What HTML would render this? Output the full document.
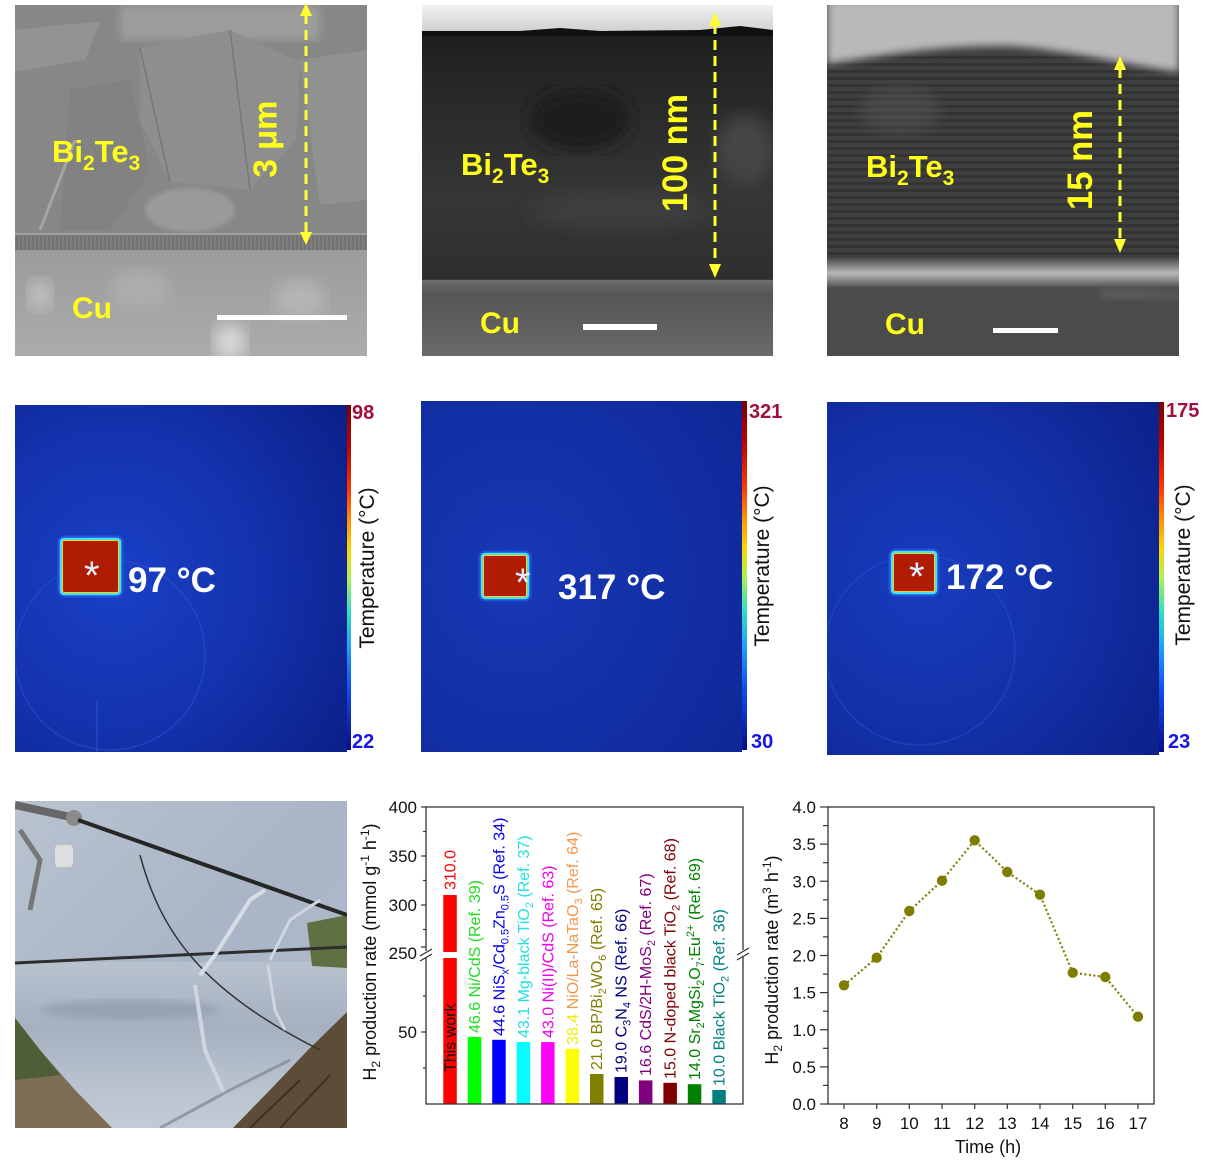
<!DOCTYPE html>
<html><head><meta charset="utf-8">
<style>
html,body{margin:0;padding:0;background:#fff;}
svg{display:block;}
text{font-family:"Liberation Sans",Arial,sans-serif;}
</style></head><body>
<svg width="1216" height="1166" viewBox="0 0 1216 1166" xmlns="http://www.w3.org/2000/svg">
<defs>
 <linearGradient id="jet" x1="0" y1="0" x2="0" y2="1">
  <stop offset="0" stop-color="#7a0000"/>
  <stop offset="0.12" stop-color="#c00000"/>
  <stop offset="0.25" stop-color="#ff3a00"/>
  <stop offset="0.33" stop-color="#ff8c00"/>
  <stop offset="0.42" stop-color="#ffd400"/>
  <stop offset="0.5" stop-color="#b0f050"/>
  <stop offset="0.6" stop-color="#30e0c0"/>
  <stop offset="0.7" stop-color="#20a0ff"/>
  <stop offset="0.82" stop-color="#1050f0"/>
  <stop offset="1" stop-color="#0a0a90"/>
 </linearGradient>
 <radialGradient id="th1" cx="0.3" cy="0.5" r="0.85">
  <stop offset="0" stop-color="#1a40c6"/>
  <stop offset="0.5" stop-color="#1433ae"/>
  <stop offset="1" stop-color="#0b1f88"/>
 </radialGradient>
 <radialGradient id="th2" cx="0.3" cy="0.5" r="0.9">
  <stop offset="0" stop-color="#1738b6"/>
  <stop offset="1" stop-color="#0e2796"/>
 </radialGradient>
 <radialGradient id="th3" cx="0.3" cy="0.5" r="0.85">
  <stop offset="0" stop-color="#183cbe"/>
  <stop offset="0.5" stop-color="#1331a8"/>
  <stop offset="1" stop-color="#0c218a"/>
 </radialGradient>
 <linearGradient id="p2top" x1="0" y1="0" x2="0" y2="1">
  <stop offset="0" stop-color="#f2f2f2"/>
  <stop offset="1" stop-color="#cfcfcf"/>
 </linearGradient>
 <linearGradient id="p2body" x1="0" y1="0" x2="0" y2="1">
  <stop offset="0" stop-color="#161616"/>
  <stop offset="0.15" stop-color="#232323"/>
  <stop offset="0.55" stop-color="#363636"/>
  <stop offset="0.8" stop-color="#2e2e2e"/>
  <stop offset="1" stop-color="#242424"/>
 </linearGradient>
 <linearGradient id="p2cu" x1="0" y1="0" x2="0" y2="1">
  <stop offset="0" stop-color="#6a6a6a"/>
  <stop offset="0.2" stop-color="#555"/>
  <stop offset="1" stop-color="#6a6a6a"/>
 </linearGradient>
 <linearGradient id="p3band" x1="0" y1="0" x2="0" y2="1">
  <stop offset="0" stop-color="#4a4a4a"/>
  <stop offset="0.5" stop-color="#b8b8b8"/>
  <stop offset="1" stop-color="#505050"/>
 </linearGradient>
 <linearGradient id="p1cu" x1="0" y1="0" x2="0" y2="1">
  <stop offset="0" stop-color="#9c9c9c"/>
  <stop offset="1" stop-color="#ababab"/>
 </linearGradient>
 <linearGradient id="mir1" x1="0" y1="0" x2="1" y2="1">
  <stop offset="0" stop-color="#b9c3d0"/>
  <stop offset="0.5" stop-color="#a9b5c6"/>
  <stop offset="1" stop-color="#b3bfd0"/>
 </linearGradient>
 <linearGradient id="mir2" x1="0" y1="0" x2="0" y2="1">
  <stop offset="0" stop-color="#b8c2cf"/>
  <stop offset="0.4" stop-color="#a5b0c0"/>
  <stop offset="0.7" stop-color="#b7c1ce"/>
  <stop offset="1" stop-color="#c2cad5"/>
 </linearGradient>
 <pattern id="stripes" x="0" y="0" width="8" height="7" patternUnits="userSpaceOnUse">
  <rect x="0" y="0" width="8" height="3" fill="#2a2a2a" opacity="0.55"/>
 </pattern>
 <pattern id="hatch" x="0" y="0" width="4" height="14" patternUnits="userSpaceOnUse">
  <rect x="0" y="0" width="2" height="14" fill="#6a6a6a" opacity="0.6"/>
 </pattern>
 <filter id="blur4"><feGaussianBlur stdDeviation="4"/></filter>
 <filter id="blur8"><feGaussianBlur stdDeviation="8"/></filter>
 <filter id="blur2"><feGaussianBlur stdDeviation="2"/></filter>
 <clipPath id="c1"><rect x="15" y="5" width="352" height="351"/></clipPath>
 <clipPath id="c2"><rect x="422" y="5" width="351" height="351"/></clipPath>
 <clipPath id="c3"><rect x="827" y="5" width="352" height="351"/></clipPath>
 <clipPath id="cph"><rect x="15" y="801" width="332" height="327"/></clipPath>
 <clipPath id="ct1"><rect x="15" y="405" width="332" height="347"/></clipPath>
 <clipPath id="ct3"><rect x="827" y="402" width="332" height="353"/></clipPath>
</defs>

<rect x="0" y="0" width="1216" height="1166" fill="#fff"/>

<!-- ===== Panel 1 SEM ===== -->
<g clip-path="url(#c1)">
 <rect x="15" y="5" width="352" height="232" fill="#878787"/>
 <rect x="120" y="5" width="200" height="35" fill="#9c9c9c" filter="url(#blur4)"/>
 <polygon points="15,30 60,25 100,22 85,60 15,72" fill="#939393"/>
 <polygon points="140,48 230,30 300,62 296,140 250,190 170,182 140,120" fill="#8e8e8e"/>
 <polygon points="70,90 130,80 150,170 110,230 60,230" fill="#828282"/>
 <polygon points="300,60 367,50 367,200 320,205" fill="#919191"/>
 <ellipse cx="190" cy="210" rx="45" ry="22" fill="#9a9a9a" filter="url(#blur2)"/>
 <path d="M140,48 L170,182 M230,30 L250,190" stroke="#777" stroke-width="1.5" fill="none"/>
 <line x1="40" y1="230" x2="75" y2="140" stroke="#a5a5a5" stroke-width="3"/>
 <rect x="15" y="233" width="352" height="17" fill="#7f7f7f"/>
 <rect x="15" y="233" width="352" height="17" fill="url(#hatch)"/>
 <rect x="15" y="233" width="352" height="2" fill="#a0a0a0"/>
 <rect x="15" y="250" width="352" height="106" fill="url(#p1cu)"/>
 <ellipse cx="230" cy="342" rx="16" ry="18" fill="#d8d8d8" filter="url(#blur8)"/>
 <ellipse cx="40" cy="295" rx="12" ry="16" fill="#c0c0c0" filter="url(#blur8)"/>
 <ellipse cx="300" cy="300" rx="25" ry="20" fill="#b5b5b5" filter="url(#blur8)"/>
 <ellipse cx="140" cy="290" rx="30" ry="20" fill="#adadad" filter="url(#blur8)"/>
</g>
<rect x="217" y="315" width="130" height="5" fill="#fff"/>
<line x1="306" y1="14" x2="306" y2="234" stroke="#ffff33" stroke-width="3" stroke-dasharray="10 6"/>
<polygon points="306,3 300,16 312,16" fill="#ffff33"/>
<polygon points="306,245 300,232 312,232" fill="#ffff33"/>
<text x="52" y="162" font-size="31" font-weight="bold" fill="#ffff1a">Bi<tspan font-size="21" dy="8">2</tspan><tspan dy="-8">Te</tspan><tspan font-size="21" dy="8">3</tspan></text>
<text x="72" y="318" font-size="30" font-weight="bold" fill="#ffff1a">Cu</text>
<text transform="translate(265,139) rotate(-90)" y="11.5" text-anchor="middle" font-size="33" font-weight="bold" fill="#ffff1a">3 μm</text>

<!-- ===== Panel 2 TEM ===== -->
<g clip-path="url(#c2)">
 <rect x="422" y="5" width="351" height="351" fill="url(#p2body)"/>
 <rect x="422" y="5" width="351" height="27" fill="url(#p2top)"/>
 <path d="M422,31 L520,31 L560,28 L600,31 L700,30 L740,26 L773,30 L773,36 L422,36 Z" fill="#101010"/>
 <ellipse cx="580" cy="120" rx="50" ry="30" fill="#1f1f1f" filter="url(#blur8)"/>
 <ellipse cx="745" cy="150" rx="30" ry="35" fill="#444" filter="url(#blur8)"/>
 <ellipse cx="620" cy="210" rx="90" ry="20" fill="#3d3d3d" filter="url(#blur8)"/>
 <rect x="422" y="280" width="351" height="76" fill="url(#p2cu)"/>
 <rect x="422" y="280" width="351" height="3" fill="#707070" filter="url(#blur2)"/>
</g>
<rect x="583" y="324" width="74" height="6" fill="#fff"/>
<line x1="715" y1="24" x2="715" y2="266" stroke="#ffff33" stroke-width="3" stroke-dasharray="10 6"/>
<polygon points="715,12 709,26 721,26" fill="#ffff33"/>
<polygon points="715,278 709,264 721,264" fill="#ffff33"/>
<text x="461" y="175" font-size="31" font-weight="bold" fill="#ffff1a">Bi<tspan font-size="21" dy="8">2</tspan><tspan dy="-8">Te</tspan><tspan font-size="21" dy="8">3</tspan></text>
<text x="480" y="333" font-size="30" font-weight="bold" fill="#ffff1a">Cu</text>
<text transform="translate(675,153) rotate(-90)" y="12" text-anchor="middle" font-size="35" font-weight="bold" fill="#ffff1a" textLength="118" lengthAdjust="spacingAndGlyphs">100 nm</text>

<!-- ===== Panel 3 HRTEM ===== -->
<g clip-path="url(#c3)">
 <rect x="827" y="5" width="352" height="351" fill="#3f3f3f"/>
 <rect x="827" y="55" width="352" height="210" fill="url(#stripes)"/>
 <path d="M827,0 H1179 V72 C1120,64 1050,46 1000,46 C930,46 880,56 827,64 Z" fill="#b9b9b9" filter="url(#blur4)"/>
 <ellipse cx="900" cy="110" rx="40" ry="25" fill="#555" opacity="0.5" filter="url(#blur8)"/>
 <rect x="827" y="258" width="352" height="30" fill="url(#p3band)"/>
 <rect x="827" y="287" width="352" height="69" fill="#4b4b4b"/>
 <path d="M1100,287 C1130,285 1160,290 1179,292 L1179,300 L1100,300 Z" fill="#5a5a5a" filter="url(#blur4)"/>
</g>
<rect x="993" y="328" width="65" height="5" fill="#fff"/>
<line x1="1120" y1="68" x2="1120" y2="242" stroke="#ffff33" stroke-width="3" stroke-dasharray="10 6"/>
<polygon points="1120,56 1114,70 1126,70" fill="#ffff33"/>
<polygon points="1120,253 1114,239 1126,239" fill="#ffff33"/>
<text x="866" y="177" font-size="31" font-weight="bold" fill="#ffff1a">Bi<tspan font-size="21" dy="8">2</tspan><tspan dy="-8">Te</tspan><tspan font-size="21" dy="8">3</tspan></text>
<text x="885" y="334" font-size="30" font-weight="bold" fill="#ffff1a">Cu</text>
<text transform="translate(1080,160) rotate(-90)" y="12" text-anchor="middle" font-size="35" font-weight="bold" fill="#ffff1a" textLength="100" lengthAdjust="spacingAndGlyphs">15 nm</text>

<!-- ===== Thermal 1 ===== -->
<g clip-path="url(#ct1)">
 <rect x="15" y="405" width="332" height="347" fill="url(#th1)"/>
 <circle cx="110" cy="655" r="95" fill="none" stroke="#2a55d8" stroke-width="1.5" opacity="0.5"/>
 <line x1="97" y1="700" x2="97" y2="752" stroke="#2a55d8" stroke-width="2" opacity="0.5"/>
</g>
<rect x="347" y="405" width="4" height="345" fill="url(#jet)"/>
<rect x="61" y="539" width="59" height="55" rx="3" fill="none" stroke="#3070ff" stroke-width="7" opacity="0.45"/>
<rect x="61" y="539" width="59" height="55" rx="3" fill="#b01c02" stroke="#40e0ff" stroke-width="2.5"/>
<rect x="62.5" y="540.5" width="56" height="52" rx="2" fill="none" stroke="#ffd000" stroke-width="1"/>
<text x="84" y="589" font-size="40" fill="#e8eeff">*</text>
<text x="128" y="592" font-size="35" font-weight="bold" fill="#fff">97 °C</text>
<text x="352" y="419" font-size="20" font-weight="bold" fill="#a0103a">98</text>
<text x="352" y="748" font-size="20" font-weight="bold" fill="#1515e5">22</text>
<text transform="translate(367,568) rotate(-90)" y="7" text-anchor="middle" font-size="21" fill="#111">Temperature (°C)</text>

<!-- ===== Thermal 2 ===== -->
<rect x="421" y="401" width="321" height="351" fill="url(#th2)"/>
<rect x="742" y="401" width="5" height="349" fill="url(#jet)"/>
<rect x="482" y="554" width="46" height="44" rx="3" fill="none" stroke="#3070ff" stroke-width="7" opacity="0.45"/>
<rect x="482" y="554" width="46" height="44" rx="3" fill="#b01c02" stroke="#40e0ff" stroke-width="2.5"/>
<rect x="483.5" y="555.5" width="43" height="41" rx="2" fill="none" stroke="#ffd000" stroke-width="1"/>
<text x="515" y="596" font-size="40" fill="#e8eeff">*</text>
<text x="558" y="599" font-size="35" font-weight="bold" fill="#fff">317 °C</text>
<text x="749" y="418" font-size="20" font-weight="bold" fill="#a0103a">321</text>
<text x="751" y="748" font-size="20" font-weight="bold" fill="#1515e5">30</text>
<text transform="translate(762,566) rotate(-90)" y="7" text-anchor="middle" font-size="21" fill="#111">Temperature (°C)</text>

<!-- ===== Thermal 3 ===== -->
<g clip-path="url(#ct3)">
 <rect x="827" y="402" width="332" height="353" fill="url(#th3)"/>
 <circle cx="920" cy="650" r="95" fill="none" stroke="#2a55d8" stroke-width="1.5" opacity="0.45"/>
</g>
<rect x="1159" y="402" width="5" height="350" fill="url(#jet)"/>
<rect x="892" y="552" width="44" height="41" rx="3" fill="none" stroke="#3070ff" stroke-width="7" opacity="0.45"/>
<rect x="892" y="552" width="44" height="41" rx="3" fill="#b01c02" stroke="#40e0ff" stroke-width="2.5"/>
<rect x="893.5" y="553.5" width="41" height="38" rx="2" fill="none" stroke="#ffd000" stroke-width="1"/>
<text x="909" y="590" font-size="40" fill="#e8eeff">*</text>
<text x="946" y="589" font-size="35" font-weight="bold" fill="#fff">172 °C</text>
<text x="1166" y="417" font-size="20" font-weight="bold" fill="#a0103a">175</text>
<text x="1168" y="748" font-size="20" font-weight="bold" fill="#1515e5">23</text>
<text transform="translate(1183,565) rotate(-90)" y="7" text-anchor="middle" font-size="21" fill="#111">Temperature (°C)</text>

<!-- ===== Photo ===== -->
<g clip-path="url(#cph)">
 <rect x="15" y="801" width="332" height="327" fill="url(#mir1)"/>
 <rect x="15" y="962" width="332" height="166" fill="url(#mir2)"/>
 <ellipse cx="130" cy="1010" rx="90" ry="10" fill="#95a2b4" filter="url(#blur4)"/>
 <polygon points="307,923 347,915 347,968 312,966" fill="#5f7042"/>
 <polygon points="15,1018 40,1050 75,1090 112,1128 15,1128" fill="#7e6d55"/>
 <polygon points="15,1018 40,1050 60,1075 15,1080" fill="#4f5e36"/>
 <polygon points="347,1012 308,1050 270,1090 233,1128 347,1128" fill="#5c4c38"/>
 <path d="M250,1128 L300,1080 M280,1128 L330,1075" stroke="#3c3026" stroke-width="2"/>
 <line x1="15" y1="805" x2="75" y2="818" stroke="#666" stroke-width="8"/>
 <circle cx="74" cy="818" r="8" fill="#8a8a8a"/>
 <line x1="78" y1="820" x2="347" y2="915" stroke="#262626" stroke-width="4"/>
 <line x1="15" y1="963" x2="347" y2="947" stroke="#2e2e2e" stroke-width="3"/>
 <path d="M140,855 C160,930 200,990 320,1050" stroke="#333" stroke-width="1.5" fill="none"/>
 <path d="M20,830 L40,860 L30,910" stroke="#777" stroke-width="5" fill="none"/>
 <rect x="55" y="845" width="18" height="22" rx="4" fill="#dedede"/>
 <path d="M200,975 L215,955 L250,900 L265,890" stroke="#d8dde5" stroke-width="4" fill="none"/>
 <path d="M195,985 L205,1050 L225,1095" stroke="#d0d6df" stroke-width="4" fill="none"/>
 <path d="M270,960 L290,920 L320,900" stroke="#d0d6df" stroke-width="3" fill="none"/>
 <path d="M268,965 L275,1010 L285,1030" stroke="#d0d6df" stroke-width="3" fill="none"/>
 <path d="M160,1128 L230,1090 L290,1060" stroke="#7c8694" stroke-width="3" fill="none" opacity="0.7"/>
</g>

<!-- ===== Bar chart ===== -->
<g>
 <rect x="443.3" y="895" width="13.5" height="209" fill="#ff0000"/>
 <rect x="443" y="952" width="14" height="6" fill="#fff"/>
 <rect x="467.8" y="1036.9" width="13.5" height="67.1" fill="#00ff00"/>
 <rect x="492.2" y="1039.8" width="13.5" height="64.2" fill="#0000ff"/>
 <rect x="516.7" y="1042" width="13.5" height="62" fill="#00ffff"/>
 <rect x="541.1" y="1042.1" width="13.5" height="61.9" fill="#ff00ff"/>
 <rect x="565.6" y="1048.8" width="13.5" height="55.2" fill="#ffff00"/>
 <rect x="590" y="1074" width="13.5" height="30" fill="#808000"/>
 <rect x="614.5" y="1077" width="13.5" height="27" fill="#000080"/>
 <rect x="638.9" y="1080.4" width="13.5" height="23.6" fill="#800080"/>
 <rect x="663.4" y="1082.8" width="13.5" height="21.2" fill="#800000"/>
 <rect x="687.8" y="1084.2" width="13.5" height="19.8" fill="#008000"/>
 <rect x="712.3" y="1090" width="13.5" height="14" fill="#008080"/>

 <rect x="426" y="807" width="317" height="297" fill="none" stroke="#333" stroke-width="1.3"/>
 <rect x="422" y="951" width="8" height="7" fill="#fff"/>
 <line x1="420" y1="956" x2="432" y2="949" stroke="#333" stroke-width="1.3"/>
 <line x1="420" y1="961" x2="432" y2="954" stroke="#333" stroke-width="1.3"/>
 <rect x="739" y="950" width="8" height="7" fill="#fff"/>
 <line x1="737" y1="955" x2="749" y2="948" stroke="#333" stroke-width="1.3"/>
 <line x1="737" y1="960" x2="749" y2="953" stroke="#333" stroke-width="1.3"/>
 <g stroke="#333" stroke-width="1.2">
  <line x1="421" y1="807" x2="426" y2="807"/>
  <line x1="423" y1="831.5" x2="426" y2="831.5"/>
  <line x1="421" y1="856" x2="426" y2="856"/>
  <line x1="423" y1="880.5" x2="426" y2="880.5"/>
  <line x1="421" y1="905" x2="426" y2="905"/>
  <line x1="423" y1="929.5" x2="426" y2="929.5"/>
  <line x1="421" y1="947" x2="426" y2="947"/>
  <line x1="423" y1="996" x2="426" y2="996"/>
  <line x1="421" y1="1032" x2="426" y2="1032"/>
  <line x1="423" y1="1068" x2="426" y2="1068"/>
 </g>
 <g font-size="17" fill="#111" text-anchor="end">
  <text x="417" y="813">400</text>
  <text x="417" y="862">350</text>
  <text x="417" y="911">300</text>
  <text x="417" y="959">250</text>
  <text x="417" y="1038">50</text>
 </g>
 <text transform="translate(370,952) rotate(-90)" text-anchor="middle" y="6" font-size="18" fill="#111">H<tspan font-size="12" dy="4">2</tspan><tspan dy="-4"> production rate (mmol g</tspan><tspan font-size="12" dy="-7">-1</tspan><tspan dy="7"> h</tspan><tspan font-size="12" dy="-7">-1</tspan><tspan dy="7">)</tspan></text>

 <g font-size="16">
  <text transform="translate(450,890) rotate(-90)" y="5.5" fill="#ff0000">310.0</text>
  <text transform="translate(450,1072) rotate(-90)" y="5.5" fill="#111">This work</text>
  <text transform="translate(474.5,1033) rotate(-90)" y="5.5" fill="#22dd22">46.6 Ni/CdS (Ref. 39)</text>
  <text transform="translate(498.9,1036) rotate(-90)" y="5.5" fill="#0000ee">44.6 NiS<tspan font-size="11" dy="4">x</tspan><tspan dy="-4">/Cd</tspan><tspan font-size="11" dy="4">0.5</tspan><tspan dy="-4">Zn</tspan><tspan font-size="11" dy="4">0.5</tspan><tspan dy="-4">S (Ref. 34)</tspan></text>
  <text transform="translate(523.4,1038) rotate(-90)" y="5.5" fill="#22e0e0">43.1 Mg-black TiO<tspan font-size="11" dy="4">2</tspan><tspan dy="-4"> (Ref. 37)</tspan></text>
  <text transform="translate(547.8,1038) rotate(-90)" y="5.5" fill="#ee00ee">43.0 Ni(II)/CdS (Ref. 63)</text>
  <text transform="translate(572.3,1045) rotate(-90)" y="5.5"><tspan fill="#eeee00">38.4</tspan><tspan fill="#f09850"> NiO/La-NaTaO</tspan><tspan fill="#f09850" font-size="11" dy="4">3</tspan><tspan fill="#f09850" dy="-4"> (Ref. 64)</tspan></text>
  <text transform="translate(596.7,1070) rotate(-90)" y="5.5" fill="#808000">21.0 BP/Bi<tspan font-size="11" dy="4">2</tspan><tspan dy="-4">WO</tspan><tspan font-size="11" dy="4">6</tspan><tspan dy="-4"> (Ref. 65)</tspan></text>
  <text transform="translate(621.2,1073) rotate(-90)" y="5.5" fill="#000080">19.0 C<tspan font-size="11" dy="4">3</tspan><tspan dy="-4">N</tspan><tspan font-size="11" dy="4">4</tspan><tspan dy="-4"> NS (Ref. 66)</tspan></text>
  <text transform="translate(645.6,1076) rotate(-90)" y="5.5" fill="#800080">16.6 CdS/2H-MoS<tspan font-size="11" dy="4">2</tspan><tspan dy="-4"> (Ref. 67)</tspan></text>
  <text transform="translate(670.1,1079) rotate(-90)" y="5.5" fill="#800000">15.0 N-doped black TiO<tspan font-size="11" dy="4">2</tspan><tspan dy="-4"> (Ref. 68)</tspan></text>
  <text transform="translate(694.5,1080) rotate(-90)" y="5.5" fill="#008000">14.0 Sr<tspan font-size="11" dy="4">2</tspan><tspan dy="-4">MgSi</tspan><tspan font-size="11" dy="4">2</tspan><tspan dy="-4">O</tspan><tspan font-size="11" dy="4">7</tspan><tspan dy="-4">:Eu</tspan><tspan font-size="11" dy="-6">2+</tspan><tspan dy="6"> (Ref. 69)</tspan></text>
  <text transform="translate(719,1086) rotate(-90)" y="5.5" fill="#008080">10.0 Black TiO<tspan font-size="11" dy="4">2</tspan><tspan dy="-4"> (Ref. 36)</tspan></text>
 </g>
</g>

<!-- ===== Line chart ===== -->
<g>
 <rect x="828" y="807" width="326" height="297" fill="none" stroke="#333" stroke-width="1.3"/>
 <g stroke="#333" stroke-width="1.2">
  <line x1="820" y1="1104" x2="828" y2="1104"/>
  <line x1="823" y1="1085.4" x2="828" y2="1085.4"/>
  <line x1="820" y1="1066.9" x2="828" y2="1066.9"/>
  <line x1="823" y1="1048.3" x2="828" y2="1048.3"/>
  <line x1="820" y1="1029.75" x2="828" y2="1029.75"/>
  <line x1="823" y1="1011.2" x2="828" y2="1011.2"/>
  <line x1="820" y1="992.6" x2="828" y2="992.6"/>
  <line x1="823" y1="974.1" x2="828" y2="974.1"/>
  <line x1="820" y1="955.5" x2="828" y2="955.5"/>
  <line x1="823" y1="936.9" x2="828" y2="936.9"/>
  <line x1="820" y1="918.4" x2="828" y2="918.4"/>
  <line x1="823" y1="899.8" x2="828" y2="899.8"/>
  <line x1="820" y1="881.25" x2="828" y2="881.25"/>
  <line x1="823" y1="862.7" x2="828" y2="862.7"/>
  <line x1="820" y1="844.1" x2="828" y2="844.1"/>
  <line x1="823" y1="825.6" x2="828" y2="825.6"/>
  <line x1="820" y1="807" x2="828" y2="807"/>
  <line x1="844" y1="1104" x2="844" y2="1109"/>
  <line x1="876.7" y1="1104" x2="876.7" y2="1109"/>
  <line x1="909.3" y1="1104" x2="909.3" y2="1109"/>
  <line x1="942" y1="1104" x2="942" y2="1109"/>
  <line x1="974.7" y1="1104" x2="974.7" y2="1109"/>
  <line x1="1007.3" y1="1104" x2="1007.3" y2="1109"/>
  <line x1="1040" y1="1104" x2="1040" y2="1109"/>
  <line x1="1072.7" y1="1104" x2="1072.7" y2="1109"/>
  <line x1="1105.3" y1="1104" x2="1105.3" y2="1109"/>
  <line x1="1138" y1="1104" x2="1138" y2="1109"/>
 </g>
 <g font-size="17" fill="#111" text-anchor="end">
  <text x="816" y="1110">0.0</text>
  <text x="816" y="1073">0.5</text>
  <text x="816" y="1036">1.0</text>
  <text x="816" y="998.6">1.5</text>
  <text x="816" y="961.5">2.0</text>
  <text x="816" y="924.4">2.5</text>
  <text x="816" y="887.3">3.0</text>
  <text x="816" y="850.1">3.5</text>
  <text x="816" y="813">4.0</text>
 </g>
 <g font-size="17" fill="#111" text-anchor="middle">
  <text x="844" y="1129">8</text>
  <text x="876.7" y="1129">9</text>
  <text x="909.3" y="1129">10</text>
  <text x="942" y="1129">11</text>
  <text x="974.7" y="1129">12</text>
  <text x="1007.3" y="1129">13</text>
  <text x="1040" y="1129">14</text>
  <text x="1072.7" y="1129">15</text>
  <text x="1105.3" y="1129">16</text>
  <text x="1138" y="1129">17</text>
 </g>
 <text x="988" y="1153" text-anchor="middle" font-size="18" fill="#111">Time (h)</text>
 <text transform="translate(772,960) rotate(-90)" text-anchor="middle" y="6" font-size="18" fill="#111">H<tspan font-size="12" dy="4">2</tspan><tspan dy="-4"> production rate (m</tspan><tspan font-size="12" dy="-7">3</tspan><tspan dy="7"> h</tspan><tspan font-size="12" dy="-7">-1</tspan><tspan dy="7">)</tspan></text>
 <polyline points="844,985.3 876.7,957.7 909.3,911 942,880.7 974.7,840.3 1007.3,872 1040,894.7 1072.7,972.7 1105.3,977 1138,1016.7" fill="none" stroke="#808000" stroke-width="2.2" stroke-dasharray="2 2.5"/>
 <g fill="#7d7d00">
  <circle cx="844" cy="985.3" r="5.2"/>
  <circle cx="876.7" cy="957.7" r="5.2"/>
  <circle cx="909.3" cy="911" r="5.2"/>
  <circle cx="942" cy="880.7" r="5.2"/>
  <circle cx="974.7" cy="840.3" r="5.2"/>
  <circle cx="1007.3" cy="872" r="5.2"/>
  <circle cx="1040" cy="894.7" r="5.2"/>
  <circle cx="1072.7" cy="972.7" r="5.2"/>
  <circle cx="1105.3" cy="977" r="5.2"/>
  <circle cx="1138" cy="1016.7" r="5.2"/>
 </g>
</g>
</svg>
</body></html>
